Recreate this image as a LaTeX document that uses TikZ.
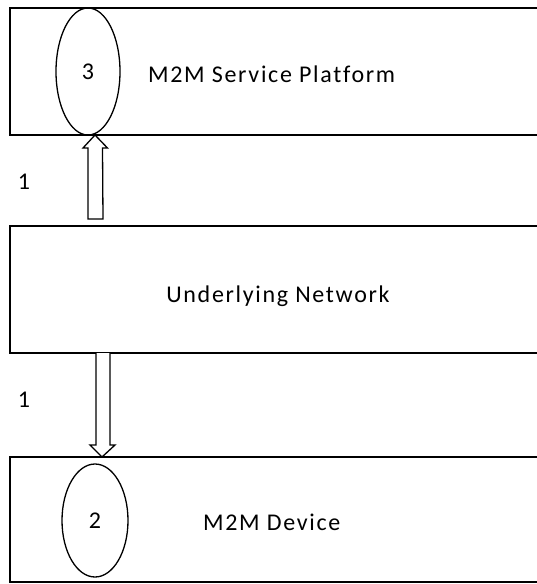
\documentclass[tikz,border=0pt]{standalone}
\usepackage{fontspec}
\setmainfont{Carlito}[LetterSpace=7,Ligatures=NoCommon]
\usetikzlibrary{shapes.geometric}
\begin{document}
\begin{tikzpicture}[x=1pt,y=-1pt,
  layer/.style={draw,line width=1.6pt,fill=white},
  oval/.style={draw,ellipse,line width=1.3pt,inner sep=0pt},
  lbl/.style={font=\fontsize{24}{28}\selectfont,inner sep=0pt},
  blockarrow/.style={draw,line width=1.3pt,fill=white,line join=miter}]
\useasboundingbox (0,0) rectangle (537,584);
\clip (0,0) rectangle (537,584);
\fill[white] (0,0) rectangle (537,584);
% layers
\draw[layer] (10,8) rectangle (570,135);
\draw[layer] (10,226) rectangle (570,353);
\draw[layer] (10,457) rectangle (570,582);
\coordinate (platbot) at (95,135);
\coordinate (devtop) at (102,457);
% ovals
\node[oval,minimum width=64pt,minimum height=127pt] (o3) at (88,71.5) {};
\node[oval,minimum width=66pt,minimum height=113pt] (o2) at (95,520.5) {};
% texts
\node[lbl] (n3) at (o3.center) {3};
\node[lbl,anchor=west] (tplat) at (148,74) {M2M Service Platform};
\node[lbl] (tnet) at (278,296) {Underlying Network};
\node[lbl] (n2) at (o2.center) {2};
\node[lbl,anchor=west] (tdev) at (203,522) {M2M Device};
\node[lbl] (l1a) at (24,182) {1};
\node[lbl] (l1b) at (24,400) {1};
% block arrows
\draw[blockarrow] (platbot) -- ++(12.5,13) -- ++(-5,0) -- (103,219) -- (88,219) -- (88,148) -- (83,148) -- cycle;
\draw[blockarrow] (96,353) -- (96,445) -- (90,445) -- (devtop) -- (115,445) -- (110,445) -- (110,353);
\end{tikzpicture}
\end{document}
